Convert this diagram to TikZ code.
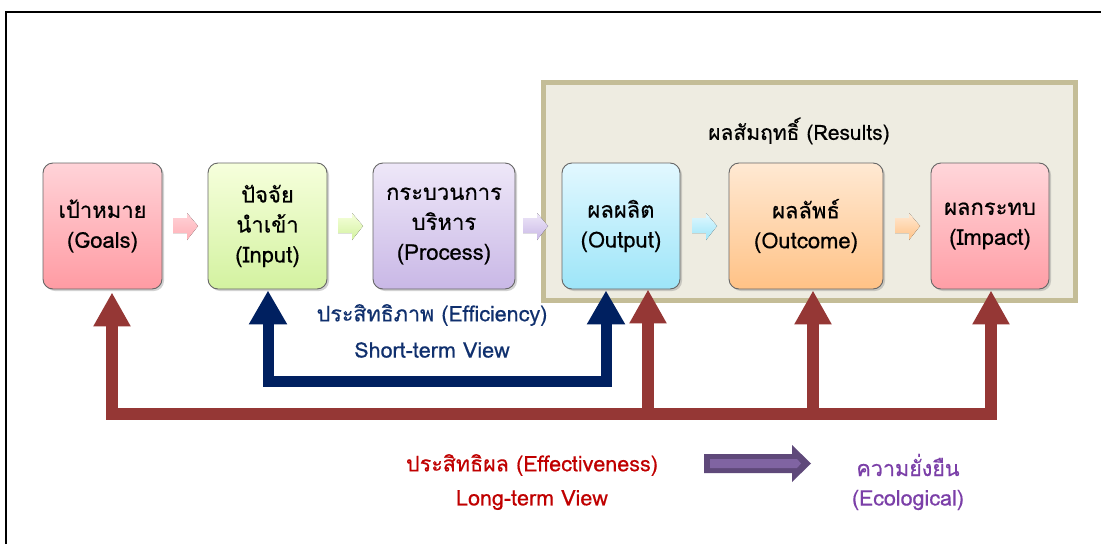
\documentclass[tikz,border=0pt]{standalone}
\usepackage{fontspec}
\newfontfamily\thaifont[Script=Thai, FakeBold=0.5]{Loma}
\usetikzlibrary{arrows.meta,shadows,calc}
\definecolor{dred}{HTML}{953735}
\definecolor{navy}{HTML}{002060}
\definecolor{lblred}{HTML}{C00000}
\definecolor{lblnavy}{HTML}{10306E}
\definecolor{lblpurple}{HTML}{7B3FA8}
\definecolor{panelfill}{HTML}{EEECE1}
\definecolor{paneldraw}{HTML}{C4BD97}
\definecolor{purpdark}{HTML}{5F497A}
\definecolor{purplight}{HTML}{8064A2}
\definecolor{gTop}{HTML}{FFD3D8}\definecolor{gBot}{HTML}{FF9BA3}
\definecolor{iTop}{HTML}{F6FFDC}\definecolor{iBot}{HTML}{D3F2A0}
\definecolor{pTop}{HTML}{EEE7F8}\definecolor{pBot}{HTML}{C9B8E6}
\definecolor{oTop}{HTML}{E2F8FF}\definecolor{oBot}{HTML}{9DE5F8}
\definecolor{cTop}{HTML}{FFE9D3}\definecolor{cBot}{HTML}{FFC286}
\definecolor{mTop}{HTML}{FFD6DA}\definecolor{mBot}{HTML}{FF9EA6}
\tikzset{
  box/.style={rounded corners=10pt, draw=black!60, line width=0.9pt,
    minimum height=126pt, inner sep=0pt, align=center, font=\thaifont\fontsize{22}{30}\selectfont,
    drop shadow={shadow xshift=2pt, shadow yshift=-2pt, opacity=0.35}},
  lbl/.style={font=\thaifont\fontsize{21.5}{26}\selectfont, align=center, inner sep=0pt},
  redarr/.style={draw=dred, line width=12pt, line join=miter},
  navyarr/.style={draw=navy, line width=11pt, line join=miter},
}
\newcommand{\smallarrow}[4]{% name, left x, top color, bottom color
  \fill[top color=#3, bottom color=#4] (#2,218) -- (#2+14,218) -- (#2+14,213) -- (#2+25,226) -- (#2+14,240) -- (#2+14,233) -- (#2,233) -- cycle;
  \coordinate (#1) at (#2+12,226);
}
\begin{document}
\begin{tikzpicture}[x=1pt,y=-1pt]
\useasboundingbox (0,0) rectangle (1101,544);
\fill[white] (0,0) rectangle (1101,544);
% frame
\draw[black, line width=2pt] (6,544) -- (6,12) -- (1101,12);
% results panel
\node[draw=paneldraw, fill=panelfill, line width=5pt, minimum width=532pt, minimum height=218pt, inner sep=0pt] (panel) at (809,191) {};
\node[lbl, font=\thaifont\fontsize{21}{24}\selectfont] (results) at (799,131) {ผลสัมฤทธิ์ (Results)};
% boxes
\node[box, minimum width=119pt, top color=gTop, bottom color=gBot] (goals) at (102.5,226) {เป้าหมาย\\(Goals)};
\node[box, minimum width=119pt, top color=iTop, bottom color=iBot] (input) at (267.5,226) {ปัจจัย\\นำเข้า\\(Input)};
\node[box, minimum width=142pt, top color=pTop, bottom color=pBot] (process) at (444,226) {กระบวนการ\\บริหาร\\(Process)};
\node[box, minimum width=118pt, top color=oTop, bottom color=oBot] (output) at (621,226) {ผลผลิต\\(Output)};
\node[box, minimum width=154pt, top color=cTop, bottom color=cBot] (outcome) at (806,226) {ผลลัพธ์\\(Outcome)};
\node[box, minimum width=118pt, top color=mTop, bottom color=mBot] (impact) at (990,226) {ผลกระทบ\\(Impact)};
% small block arrows
\smallarrow{a1}{173}{gTop}{gBot!80!white}
\smallarrow{a2}{338}{iTop}{iBot}
\smallarrow{a3}{523}{pTop}{pBot}
\smallarrow{a4}{692}{oTop}{oBot}
\smallarrow{a5}{895}{cTop}{cBot}
% long-term red arrows
\coordinate (busR) at (991,414);
\coordinate (bus1) at (648,414);
\coordinate (bus2) at (813,414);
\draw[redarr, {Triangle[width=35pt,length=34pt]}-{Triangle[width=35pt,length=34pt]}]
  ([xshift=9.5pt,yshift=-3pt]goals.south) |- (busR) -- ([xshift=1pt,yshift=-1pt]impact.south);
\draw[redarr, -{Triangle[width=35pt,length=34pt]}] (bus1) -- ([xshift=27pt,yshift=0pt]output.south);
\draw[redarr, -{Triangle[width=35pt,length=34pt]}] (bus2) -- ([xshift=7pt,yshift=-1pt]outcome.south);
% short-term navy arrows
\coordinate (navyR) at (606,381);
\draw[navyarr, {Triangle[width=36pt,length=34pt]}-{Triangle[width=36pt,length=34pt]}]
  ([xshift=0.5pt,yshift=-1pt]input.south) |- (navyR) -- ([xshift=-15pt,yshift=-1pt]output.south);
% labels
\node[lbl, text=lblnavy] (eff) at (432,315) {ประสิทธิภาพ (Efficiency)};
\node[lbl, text=lblnavy] (short) at (432,350) {Short-term View};
\node[lbl, text=lblred] (effect) at (532,465) {ประสิทธิผล (Effectiveness)};
\node[lbl, text=lblred] (long) at (532,500) {Long-term View};
\node[lbl, text=lblpurple] (eco) at (908,465) {ความยั่งยืน};
\node[lbl, text=lblpurple] (ecol) at (908,500) {(Ecological)};
% purple arrow
\coordinate (pstart) at (704,463.5);
\fill[purpdark] (704,454) -- (792,454) -- (792,445) -- (811,463.5) -- (792,482) -- (792,473) -- (704,473) -- cycle;
\fill[purplight] (710,459) -- (797,459) -- (801,463.5) -- (797,468) -- (710,468) -- cycle;
\end{tikzpicture}
\end{document}
